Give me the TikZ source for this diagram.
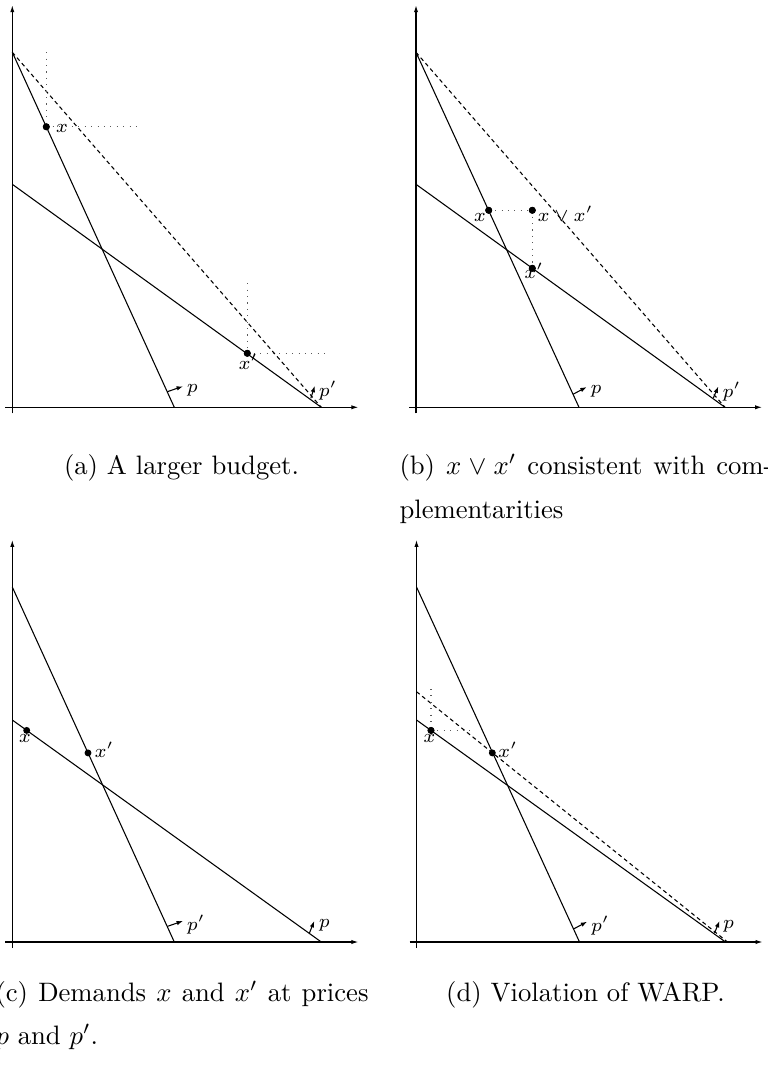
\documentclass[tikz,border=0pt]{standalone}
\usetikzlibrary{arrows.meta}
\begin{document}
\begin{tikzpicture}[x={(0.375pt,0)},y={(0,-0.375pt)},
  axis/.style={line width=0.4pt,-{Latex[length=2.6pt,width=1.6pt]}},
  budget/.style={line width=0.4pt},
  joinline/.style={line width=0.4pt,dash pattern=on 1.5pt off 1.2pt},
  guide/.style={line width=0.4pt,dotted,black!65},
  pt/.style={circle,fill,inner sep=0pt,minimum size=2.6pt},
  lab/.style={font=\scriptsize,inner sep=0pt},
  normalarrow/.style={line width=0.4pt,-{Latex[length=2.4pt,width=1.7pt]}},
  capline/.style={anchor=base west,inner sep=0pt},
  capmid/.style={anchor=base,inner sep=0pt}]
\useasboundingbox (0,0) rectangle (767,1065);
\clip (0,0) rectangle (767,1065);

% ---------------- panel (a)
\begin{scope}[shift={(12.3,407.3)}]
  \coordinate (aYb) at (0,6); \coordinate (aYt) at (0,-402);
  \coordinate (aXl) at (-7,0); \coordinate (aXr) at (346,0);
  \draw[axis] (aYb) -- (aYt);
  \draw[axis] (aXl) -- (aXr);
  \coordinate (aS1) at (0,-355); \coordinate (aS2) at (162,0);
  \coordinate (aF1) at (0,-223); \coordinate (aF2) at (309,0);
  \draw[budget] (aS1) -- (aS2);
  \draw[budget] (aF1) -- (aF2);
  \draw[joinline] (aS1) -- (aF2);
  \coordinate (aG1) at (34,-355); \coordinate (aG2) at (126,-280.5);
  \coordinate (aG3) at (235,-124); \coordinate (aG4) at (314,-54);
  \node[pt] (ax) at (34,-280.5) {};
  \node[pt] (axp) at (235,-54) {};
  \draw[guide] (aG1) -- (ax.center);
  \draw[guide] (ax.center) -- (aG2);
  \draw[guide] (aG3) -- (axp.center);
  \draw[guide] (axp.center) -- (aG4);
  \node[pt] at (ax.center) {};
  \node[pt] at (axp.center) {};
  \node[lab,anchor=base west] (axl) at (43,-275) {$x$};
  \node[lab,anchor=base] (axpl) at (236,-38) {$x'$};
  \coordinate (aP1) at (155,-15.6); \coordinate (aP2) at (170.7,-21);
  \coordinate (aQ1) at (298.5,-9); \coordinate (aQ2) at (302.5,-21.5);
  \draw[normalarrow] (aP1) -- (aP2);
  \draw[normalarrow] (aQ1) -- (aQ2);
  \node[lab,anchor=west] (apl) at (174,-17) {$p$};
  \node[lab,anchor=west] (aql) at (306,-17) {$p'$};
\end{scope}

% ---------------- panel (b)
\begin{scope}[shift={(416,407.3)}]
  \coordinate (bYb) at (0,6); \coordinate (bYt) at (0,-402);
  \coordinate (bXl) at (-7,0); \coordinate (bXr) at (346,0);
  \draw[axis] (bYb) -- (bYt);
  \draw[axis] (bXl) -- (bXr);
  \coordinate (bS1) at (0,-355); \coordinate (bS2) at (163,0);
  \coordinate (bF1) at (0,-223); \coordinate (bF2) at (309,0);
  \draw[budget] (bS1) -- (bS2);
  \draw[budget] (bF1) -- (bF2);
  \draw[joinline] (bS1) -- (bF2);
  \node[pt] (bx) at (72.7,-197) {};
  \node[pt] (bj) at (116.3,-197) {};
  \node[pt] (bxp) at (116.3,-139) {};
  \draw[guide] (bx.center) -- (bj.center);
  \draw[guide] (bj.center) -- (bxp.center);
  \node[pt] at (bx.center) {};
  \node[pt] at (bj.center) {};
  \node[pt] at (bxp.center) {};
  \node[lab,anchor=base] (bxl) at (64,-186) {$x$};
  \node[lab,anchor=base west] (bjl) at (121,-186) {$x\vee x'$};
  \node[lab,anchor=base] (bxpl) at (118,-129) {$x'$};
  \coordinate (bP1) at (157,-13); \coordinate (bP2) at (170.7,-20.3);
  \coordinate (bQ1) at (297.3,-9.3); \coordinate (bQ2) at (302.3,-20.8);
  \draw[normalarrow] (bP1) -- (bP2);
  \draw[normalarrow] (bQ1) -- (bQ2);
  \node[lab,anchor=west] (bpl) at (174,-16) {$p$};
  \node[lab,anchor=west] (bql) at (306,-16) {$p'$};
\end{scope}

% ---------------- panel (c)
\begin{scope}[shift={(12.3,942)}]
  \coordinate (cYb) at (0,6); \coordinate (cYt) at (0,-402);
  \coordinate (cXl) at (-7,0); \coordinate (cXr) at (346,0);
  \draw[axis] (cYb) -- (cYt);
  \draw[axis] (cXl) -- (cXr);
  \coordinate (cS1) at (0,-355); \coordinate (cS2) at (162,0);
  \coordinate (cF1) at (0,-222); \coordinate (cF2) at (309,0);
  \draw[budget] (cS1) -- (cS2);
  \draw[budget] (cF1) -- (cF2);
  \node[pt] (cx) at (14.4,-211.6) {};
  \node[pt] (cxp) at (75.7,-189.1) {};
  \node[lab,anchor=base] (cxl) at (12.7,-200) {$x$};
  \node[lab,anchor=base west] (cxpl) at (81.7,-184.5) {$x'$};
  \coordinate (cP1) at (155,-15.6); \coordinate (cP2) at (170.7,-21);
  \coordinate (cQ1) at (297,-8.7); \coordinate (cQ2) at (302,-21);
  \draw[normalarrow] (cP1) -- (cP2);
  \draw[normalarrow] (cQ1) -- (cQ2);
  \node[lab,anchor=west] (cpl) at (174,-17) {$p'$};
  \node[lab,anchor=west] (cql) at (306,-17) {$p$};
\end{scope}

% ---------------- panel (d)
\begin{scope}[shift={(416.5,942)}]
  \coordinate (dYb) at (0,6); \coordinate (dYt) at (0,-402);
  \coordinate (dXl) at (-7,0); \coordinate (dXr) at (346,0);
  \draw[axis] (dYb) -- (dYt);
  \draw[axis] (dXl) -- (dXr);
  \coordinate (dS1) at (0,-355); \coordinate (dS2) at (163,0);
  \coordinate (dF1) at (0,-222); \coordinate (dF2) at (309,0);
  \coordinate (dD1) at (0,-250.3); \coordinate (dD2) at (311,0);
  \draw[budget] (dS1) -- (dS2);
  \draw[budget] (dF1) -- (dF2);
  \draw[joinline] (dD1) -- (dD2);
  \node[pt] (dx) at (14.5,-211.6) {};
  \node[pt] (dxp) at (75.8,-189.1) {};
  \coordinate (dG1) at (14.5,-253); \coordinate (dG2) at (56.2,-211.6);
  \draw[guide] (dG1) -- (dx.center);
  \draw[guide] (dx.center) -- (dG2);
  \node[pt] at (dx.center) {};
  \node[lab,anchor=base] (dxl) at (12.8,-200) {$x$};
  \node[lab,anchor=base west] (dxpl) at (81.2,-184.5) {$x'$};
  \coordinate (dP1) at (157,-13); \coordinate (dP2) at (170.7,-20.3);
  \coordinate (dQ1) at (298,-9); \coordinate (dQ2) at (303,-21);
  \draw[normalarrow] (dP1) -- (dP2);
  \draw[normalarrow] (dQ1) -- (dQ2);
  \node[lab,anchor=west] (dpl) at (174,-16) {$p'$};
  \node[lab,anchor=west] (dql) at (306,-16) {$p$};
\end{scope}

% ---------------- captions
\node[capmid] (capa) at (181.5,474) {(a) A larger budget.};
\node[capline] (capb1) at (399,474) {\makebox[139.9pt][s]{(b) $x\vee x'$ consistent with com-}};
\node[capline] (capb2) at (399,518) {plementarities};
\node[capline] (capc1) at (-5,1001) {\makebox[139.9pt][s]{(c) Demands $x$ and $x'$ at prices}};
\node[capline] (capc2) at (-5,1044) {$p$ and $p'$.};
\node[capmid] (capd) at (585.5,1001) {(d) Violation of WARP.};
\end{tikzpicture}
\end{document}
